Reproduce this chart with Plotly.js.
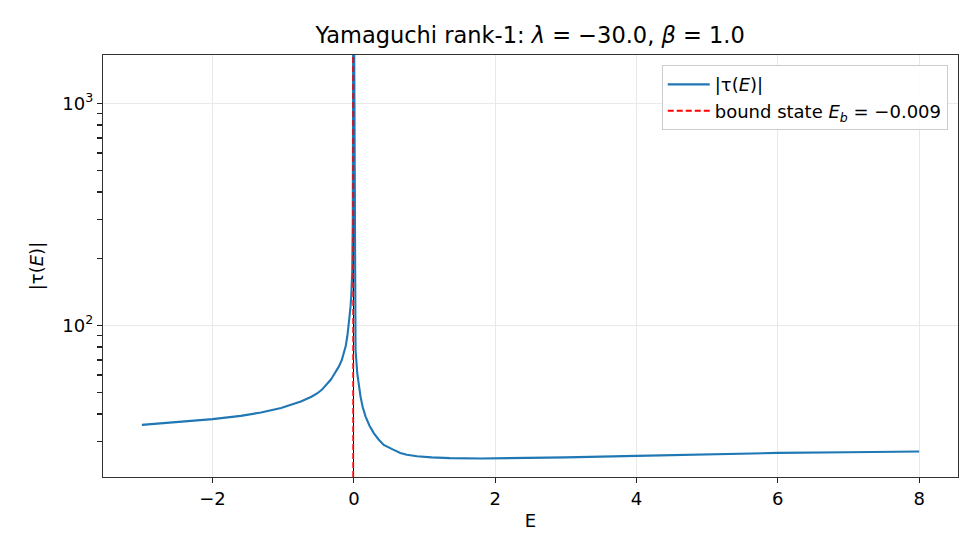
<!DOCTYPE html>
<html>
<head>
<meta charset="utf-8">
<script src="https://cdn.plot.ly/plotly-3.0.1.min.js"></script>
<style>
  html, body { margin: 0; padding: 0; background: #fff; }
  #chart { width: 980px; height: 560px; }
</style>
</head>
<body>
<div id="chart"></div>
<script>
// energies and |tau(E)|
const energy = [-3, -2.5, -2, -1.6, -1.314, -1.03, -0.9, -0.75, -0.6, -0.515, -0.45, -0.4, -0.36,
                -0.328, -0.3, -0.26, -0.211, -0.17, -0.141, -0.115, -0.093, -0.075, -0.061, -0.047,
                -0.037, -0.023, -0.015, -0.011, -0.009, 0.003, 0.024, 0.048, 0.07, 0.094, 0.125,
                0.165, 0.22, 0.282, 0.35, 0.423, 0.55, 0.658, 0.75, 0.893, 1.1, 1.36, 1.8, 2.5,
                3, 4, 5, 6, 7, 8];
const tauAbs = [35.7, 36.8, 37.9, 39.2, 40.6, 42.5, 43.9, 45.5, 47.8, 49.6, 51.5, 53.5, 55.2,
                57.0, 58.8, 61.5, 65.5, 70, 75.2, 81, 89.3, 98, 110, 122,
                135, 175, 300, 1000, 5000, 2500, 78, 61, 53, 48, 43,
                39, 35.5, 32.8, 30.7, 29.0, 27.7, 26.7, 26.2, 25.8, 25.5, 25.3, 25.2, 25.3,
                25.5, 25.9, 26.3, 26.7, 26.9, 27.1];
const boundE = -0.009;
const xTicks = [-2, 0, 2, 4, 6, 8];
const yMajor = [100, 1000];
const yMajorText = ['10<sup>2</sup>', '10<sup>3</sup>'];
const yMinor = [30, 40, 50, 60, 70, 80, 90, 200, 300, 400, 500, 600, 700, 800, 900];
const yRange = [1.318, 3.219];

const font = 'DejaVu Sans, sans-serif';

// all y ticks on one axis; minor ones get a blank label
const yTickVals = yMajor.concat(yMinor);
const yTickText = yMajorText.concat(yMinor.map(() => ' '));

// horizontal grid only at the decades
const gridShapes = yMajor.map(v => ({
    type: 'line', xref: 'paper', x0: 0, x1: 1, yref: 'y', y0: v, y1: v,
    layer: 'below', line: { color: '#e8e8e8', width: 1 }
}));

const tauTrace = {
    x: energy,
    y: tauAbs,
    mode: 'lines',
    name: '|τ(<i>E</i>)|',
    line: { color: '#1f77b4', width: 2.1 }
};

// axvline: spans the full height via a 0..1 overlay axis
const boundTrace = {
    x: [boundE, boundE],
    y: [0, 1],
    yaxis: 'y2',
    mode: 'lines',
    name: 'bound state <i>E</i><sub><i>b</i></sub> = −0.009',
    line: { color: '#ff0000', width: 1.8, dash: '6px,3px' }
};

const layout = {
    width: 980,
    height: 560,
    margin: { l: 103, r: 22, t: 55, b: 83 },
    paper_bgcolor: '#ffffff',
    plot_bgcolor: '#ffffff',
    font: { family: font, size: 18, color: '#000' },
    title: {
        text: 'Yamaguchi rank-1: <i>λ</i> = −30.0, <i>β</i> = 1.0',
        font: { family: font, size: 22.5, color: '#000' },
        x: 0.541, xanchor: 'center',
        y: 0.937, yanchor: 'middle'
    },
    xaxis: {
        range: [-3.55, 8.55],
        tickvals: xTicks,
        ticks: 'outside', ticklen: 5, tickwidth: 1.2, tickcolor: '#222',
        showline: true, mirror: true, linecolor: '#333', linewidth: 1.2,
        showgrid: true, gridcolor: '#e8e8e8', gridwidth: 1,
        zeroline: true, zerolinecolor: '#000', zerolinewidth: 1,
        tickfont: { family: font, size: 18 },
        title: { text: 'E', font: { family: font, size: 18 }, standoff: 6 }
    },
    yaxis: {
        type: 'log',
        range: yRange,
        tickmode: 'array',
        tickvals: yTickVals,
        ticktext: yTickText,
        ticks: 'outside', ticklen: 5, tickwidth: 1.3, tickcolor: '#222',
        showline: true, mirror: true, linecolor: '#333', linewidth: 1.2,
        showgrid: false,
        zeroline: false,
        tickfont: { family: font, size: 18 },
        title: { text: '|τ(<i>E</i>)|', font: { family: font, size: 18 }, standoff: 14 }
    },
    yaxis2: {
        overlaying: 'y',
        range: [0, 1],
        visible: false,
        fixedrange: true
    },
    shapes: gridShapes,
    showlegend: true,
    legend: {
        x: 0.988, xanchor: 'right',
        y: 0.976, yanchor: 'top',
        bgcolor: 'rgba(255,255,255,0.9)',
        bordercolor: '#cccccc', borderwidth: 1,
        itemwidth: 42,
        font: { family: font, size: 18 }
    }
};

Plotly.newPlot('chart', [tauTrace, boundTrace], layout, { displayModeBar: false, staticPlot: true });
</script>
</body>
</html>
